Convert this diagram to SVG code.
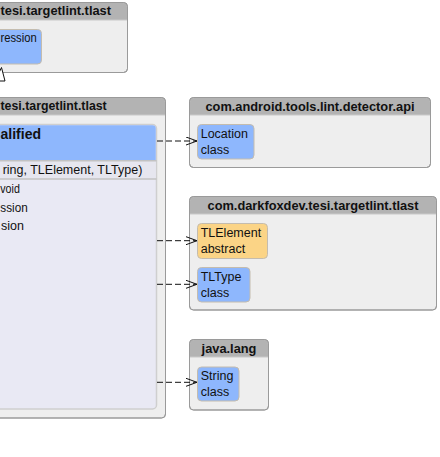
<svg xmlns="http://www.w3.org/2000/svg" width="440" height="457" viewBox="0 0 440 457">
  <style>
    .pkg { fill: #eeeeee; stroke: #9a9a9a; stroke-width: 1; }
    .pkghead { fill: #b3b3b3; }
    .pkgtitle { font-family: "Liberation Sans", Arial, sans-serif; font-weight: bold; font-size: 12.8px; fill: #111; text-anchor: middle; }
    .lefttitle { font-family: "Liberation Sans", Arial, sans-serif; font-weight: bold; font-size: 12.8px; fill: #111; }
    .cls { fill: #8eb7fd; stroke: #c4bcae; stroke-width: 1; }
    .abs { fill: #fbd486; stroke: #c4bcae; stroke-width: 1; }
    .txt { font-family: "Liberation Sans", Arial, sans-serif; font-size: 12.5px; fill: #111; }
    .big { font-family: "Liberation Sans", Arial, sans-serif; font-size: 14px; font-weight: bold; fill: #111; }
    .conn { fill: none; stroke: #111; stroke-width: 1; stroke-dasharray: 6 3; }
  </style>
  <defs>
    <marker id="open" markerUnits="userSpaceOnUse" markerWidth="13" markerHeight="10" refX="11" refY="4.5" orient="auto">
      <path d="M0,0.5 L11,4.5 L0,8.5" fill="none" stroke="#111" stroke-width="1"/>
    </marker>
  </defs>

  <!-- top-left package -->
  <g id="pkg-expr">
    <rect class="pkg" x="-122" y="2.5" width="249.5" height="70" rx="4"/>
    <path class="pkghead" d="M-121.5,20 V7 a4,4 0 0 1 4,-4 H123 a4,4 0 0 1 4,4 V20 Z"/>
    <line x1="-122" y1="20" x2="127.5" y2="20" stroke="#c8c8c8"/>
    <rect x="-122" y="2.5" width="249.5" height="70" rx="4" fill="none" stroke="#9a9a9a"/>
    <text class="lefttitle" x="0.5" y="15" textLength="110.5" lengthAdjust="spacingAndGlyphs">tesi.targetlint.tlast</text>
    <g id="cls-expression">
      <rect class="cls" x="-60" y="29.5" width="101.5" height="34.5" rx="4"/>
      <text class="txt" x="0.5" y="41.7" textLength="36.2" lengthAdjust="spacingAndGlyphs">ression</text>
    </g>
  </g>

  <!-- main package -->
  <g id="pkg-main">
    <rect class="pkg" x="-168" y="97.5" width="333.5" height="320.5" rx="4"/>
    <path class="pkghead" d="M-167.5,115 V102 a4,4 0 0 1 4,-4 H161 a4,4 0 0 1 4,4 V115 Z"/>
    <line x1="-168" y1="115" x2="165.5" y2="115" stroke="#c8c8c8"/>
    <rect x="-168" y="97.5" width="333.5" height="320.5" rx="4" fill="none" stroke="#9a9a9a"/>
    <text class="lefttitle" x="0.5" y="110" textLength="106.2" lengthAdjust="spacingAndGlyphs">tesi.targetlint.tlast</text>
    <g id="cls-qualified">
      <rect x="-200" y="124.5" width="356.5" height="284.5" rx="4" fill="#e9e9f4" stroke="#cfcfcf" stroke-width="1.5"/>
      <path d="M-199.25,160.5 V128.5 a3.25,3.25 0 0 1 3.25,-3.25 H152.5 a3.25,3.25 0 0 1 3.25,3.25 V160.5 Z" fill="#8eb7fd"/>
      <rect x="-199.25" y="161" width="355" height="17.5" fill="#e6e6ef"/>
      <line x1="-200" y1="160.75" x2="156.5" y2="160.75" stroke="#c2c2c2" stroke-width="1.5"/>
      <line x1="-200" y1="179" x2="156.5" y2="179" stroke="#c2c2c2" stroke-width="1.5"/>
      <text class="big" x="0.5" y="139.3" textLength="40.5" lengthAdjust="spacingAndGlyphs">alified</text>
      <text class="txt" x="142.3" y="174.3" style="text-anchor:end">ring, TLElement, TLType)</text>
      <text class="txt" x="0.3" y="193.3" textLength="19.5" lengthAdjust="spacingAndGlyphs">void</text>
      <text class="txt" x="0.3" y="211.7" textLength="27.4" lengthAdjust="spacingAndGlyphs">ssion</text>
      <text class="txt" x="1" y="230">sion</text>
    </g>
  </g>

  <!-- com.android.tools.lint.detector.api -->
  <g id="pkg-lint">
    <rect class="pkg" x="189.5" y="97.5" width="241" height="70" rx="4"/>
    <path class="pkghead" d="M190,115 V102 a4,4 0 0 1 4,-4 H426 a4,4 0 0 1 4,4 V115 Z"/>
    <line x1="189.5" y1="115" x2="430.5" y2="115" stroke="#c8c8c8"/>
    <rect x="189.5" y="97.5" width="241" height="70" rx="4" fill="none" stroke="#9a9a9a"/>
    <text class="pkgtitle" x="310" y="110.7">com.android.tools.lint.detector.api</text>
    <g id="cls-location">
      <rect class="cls" x="197.5" y="124.5" width="56.5" height="34.5" rx="4"/>
      <text class="txt" x="200.7" y="137.5">Location</text>
      <text class="txt" x="200.7" y="153.5">class</text>
    </g>
  </g>

  <!-- com.darkfoxdev.tesi.targetlint.tlast -->
  <g id="pkg-tlast">
    <rect class="pkg" x="189.5" y="196.5" width="247" height="113.5" rx="4"/>
    <path class="pkghead" d="M190,214 V201 a4,4 0 0 1 4,-4 H432 a4,4 0 0 1 4,4 V214 Z"/>
    <line x1="189.5" y1="214" x2="436.5" y2="214" stroke="#c8c8c8"/>
    <rect x="189.5" y="196.5" width="247" height="113.5" rx="4" fill="none" stroke="#9a9a9a"/>
    <text class="pkgtitle" x="313" y="209.5">com.darkfoxdev.tesi.targetlint.tlast</text>
    <g id="cls-tlelement">
      <rect class="abs" x="197.5" y="223.5" width="70" height="35" rx="4"/>
      <text class="txt" x="200.7" y="236.7">TLElement</text>
      <text class="txt" x="200.7" y="252.7">abstract</text>
    </g>
    <g id="cls-tltype">
      <rect class="cls" x="197.5" y="267.5" width="52.5" height="34.5" rx="4"/>
      <text class="txt" x="200.7" y="280.7">TLType</text>
      <text class="txt" x="200.7" y="296.7">class</text>
    </g>
  </g>

  <!-- java.lang -->
  <g id="pkg-java">
    <rect class="pkg" x="189.5" y="339.5" width="79" height="70.5" rx="4"/>
    <path class="pkghead" d="M190,357 V344 a4,4 0 0 1 4,-4 H264 a4,4 0 0 1 4,4 V357 Z"/>
    <line x1="189.5" y1="357" x2="268.5" y2="357" stroke="#c8c8c8"/>
    <rect x="189.5" y="339.5" width="79" height="70.5" rx="4" fill="none" stroke="#9a9a9a"/>
    <text class="pkgtitle" x="229" y="352.5">java.lang</text>
    <g id="cls-string">
      <rect class="cls" x="197.5" y="367" width="41.5" height="34" rx="4"/>
      <text class="txt" x="200.7" y="380.2">String</text>
      <text class="txt" x="200.7" y="396.2">class</text>
    </g>
  </g>

  <!-- connectors -->
  <g id="connectors">
    <path class="conn" d="M157,141 H197" marker-end="url(#open)"/>
    <path class="conn" d="M157,240.7 H197" marker-end="url(#open)"/>
    <path class="conn" d="M157,284.3 H197" marker-end="url(#open)"/>
    <path class="conn" d="M157,382.3 H197" marker-end="url(#open)"/>
    <polygon points="1.5,67.5 5,81 -5,81" fill="#ffffff" stroke="#111" stroke-width="1"/>
  </g>
</svg>
